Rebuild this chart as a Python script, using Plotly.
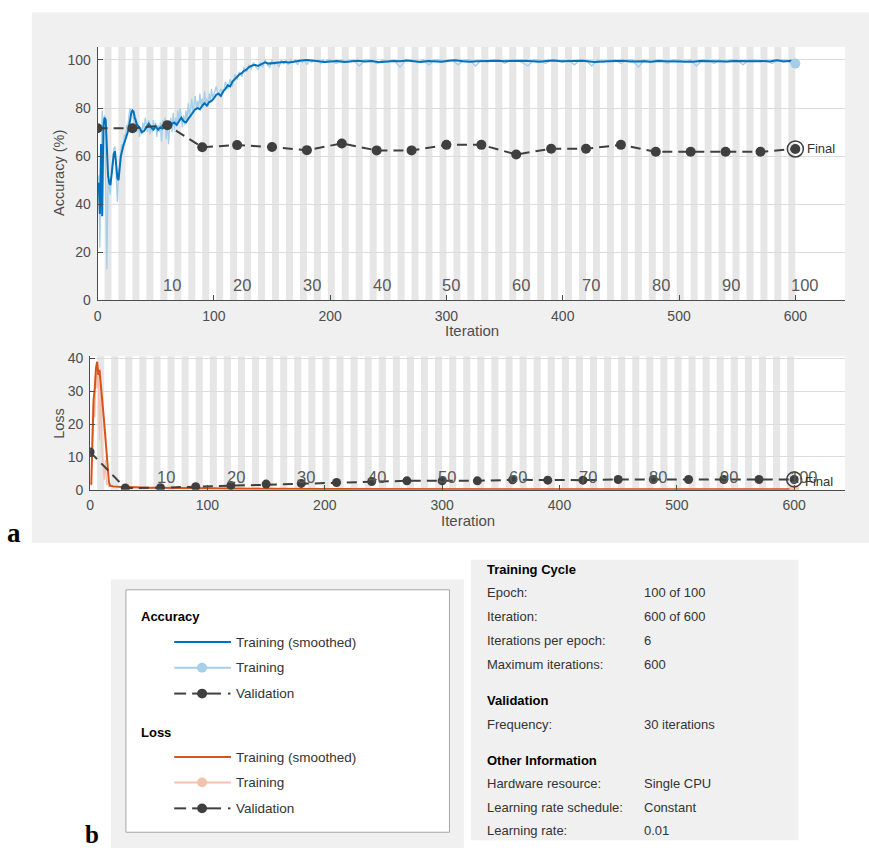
import plotly.graph_objects as go

W, H = 869, 856

# ---------------- data ----------------
acc_smooth_iter = ([1, 2, 3, 4, 5, 6, 7, 8, 9, 10,
                    11, 12, 13, 14, 15, 16, 17, 18, 19, 20,
                    22, 24, 26, 28, 29, 30, 31, 32, 34, 36,
                    38, 40, 42, 44, 46, 48, 50, 52, 54, 56,
                    58, 60, 62, 64, 66, 68, 70, 72, 74, 76,
                    78, 80, 82, 84, 86, 88, 90, 92, 94, 96,
                    98, 100, 102, 104, 106, 108, 110, 112, 114, 116,
                    118, 120, 122, 124, 126, 128, 130, 132, 135, 138,
                    141, 144, 147, 150, 155, 160, 165, 170, 175, 180,
                    185, 190, 195, 200]
                   + list(range(206, 597, 6)) + [600])
acc_smooth = [49, 36, 65, 35, 72, 76, 75, 64, 52, 49,
              48, 52, 57, 61, 62, 56, 51, 50, 55, 60,
              64, 67, 70, 75, 78, 79, 78.5, 76, 73, 72,
              70, 70.5, 72, 73.5, 72, 71, 72.5, 71, 72, 71.5,
              72.5, 71.5, 72, 73.5, 74, 73, 74.5, 76, 74.5, 74,
              75.5, 77, 78, 79.5, 80, 79.5, 81, 82, 81, 82.5,
              83, 84, 85.5, 86, 85, 87, 88, 89.5, 89, 91,
              92, 93, 94, 94.5, 95.5, 96, 97, 97.5, 98, 97.5,
              98.3, 99, 98.5, 98.7, 99, 99.2, 99, 99.5, 99.8, 100,
              99.6, 99.5, 99.2, 99.3,
              99.6, 99.2, 99.5, 99.7, 99.4, 99.6, 99.1, 99.4, 99.6, 99.5,
              99.8, 99.5, 99.2, 99.6, 99.5, 99.3, 99.7, 99.9, 99.5, 99.3,
              99.5, 99.6, 99.4, 99.7, 99.5, 99.6, 99.4, 99.7, 99.5, 99.3,
              99.6, 99.8, 99.5, 99.4, 99.6, 99.7, 99.5, 99.2, 99.4, 99.6,
              99.5, 99.7, 99.4, 99.6, 99.5, 99.3, 99.6, 99.5, 99.4, 99.6,
              99.5, 99.3, 99.6, 99.5, 99.7, 99.5, 99.4, 99.6, 99.5, 99.7,
              99.5, 99.6, 99.4, 99.9, 99.4, 99.7,
              99.6]

acc_raw_iter = list(range(1, 101)) + list(range(102, 201, 2)) + list(range(205, 601, 5))
acc_raw = [52, 22, 60, 79, 70, 77, 45, 13, 50, 47,
           44, 55, 60, 63, 64, 50, 41, 52, 58, 62,
           65, 64, 69, 68, 73, 72, 77, 80, 78, 79,
           75, 72, 76, 70, 73, 68, 72, 69, 74, 71,
           76, 72, 70, 75, 69, 73, 70, 75, 71, 74,
           68, 73, 70, 74, 66, 75, 72, 76, 67, 74,
           65, 72, 76, 70, 78, 71, 76, 73, 79, 74,
           80, 76, 72, 77, 73, 79, 75, 82, 77, 80,
           84, 78, 82, 85, 79, 83, 80, 86, 81, 84,
           80, 87, 82, 84, 81, 86, 83, 88, 84, 86,
           89, 85, 88, 86, 91, 88, 92, 89, 94, 92,
           95, 93, 97, 95, 98, 96, 99, 97, 96, 99,
           97, 100, 98, 97, 100, 98, 99, 97, 100, 98.5,
           100, 98, 100, 99, 100, 98, 100, 99, 100, 98,
           100, 99, 100, 99.5, 100, 98.5, 100, 99, 100, 100,
           98.5, 100, 99, 100, 97.5, 100, 100, 98.5, 100, 99,
           100, 97, 100, 100, 99, 100, 98, 100, 100, 99.5,
           100, 98, 100, 100, 97.5, 100, 99, 100, 100, 98.5,
           100, 100, 99, 97.5, 100, 100, 98.5, 100, 100, 99,
           100, 98, 100, 100, 97.5, 100, 99, 100, 100, 98.5,
           100, 100, 97, 100, 99, 100, 100, 98.5, 100, 100,
           99, 100, 97.5, 100, 100, 98.5, 100, 99, 100, 100,
           98, 100, 100, 99, 100, 98.5, 100, 100, 99, 98.5]

val_iter = [0, 30, 60, 90, 120, 150, 180, 210, 240, 270, 300,
            330, 360, 390, 420, 450, 480, 510, 540, 570, 600]
val_acc = [71.6, 71.6, 72.9, 63.7, 64.6, 63.8, 62.5, 65.3, 62.4, 62.4, 64.7,
           64.7, 60.7, 63.1, 63.1, 64.7, 61.8, 61.8, 61.8, 61.8, 63.0]
val_loss = [11.5, 0.5, 0.6, 0.9, 1.3, 1.7, 1.9, 2.2, 2.5, 2.7, 2.7,
            2.7, 3.0, 2.9, 2.9, 3.1, 3.1, 3.1, 3.1, 3.1, 3.1]

loss_smooth_iter = [1, 2, 3, 4, 5, 6, 7, 8, 9, 10, 11, 12, 13, 14, 15, 16, 17, 18, 20,
                    25, 30, 40, 50, 60, 80, 100, 120, 150, 200, 250, 300, 350, 400,
                    450, 500, 550, 600]
loss_smooth = [1.5, 14, 27.5, 31, 37, 39, 35, 36.5, 33, 29, 25, 20.5, 16, 11.5, 7, 2.5, 1.2, 1.1, 1.0,
               0.9, 0.8, 0.7, 0.6, 0.55, 0.45, 0.35, 0.3, 0.25, 0.2, 0.18, 0.15, 0.13, 0.12,
               0.11, 0.1, 0.1, 0.1]
loss_raw_iter = [1, 2, 3, 4, 5, 6, 7, 8, 9, 10, 11, 12, 13, 14, 15, 16, 18, 20, 25, 30,
                 35, 40, 50, 60, 70, 80, 90, 100, 120, 140, 160, 180, 200, 250, 300,
                 350, 400, 450, 500, 550, 600]
loss_raw = [1.2, 23, 28, 22, 36, 31, 37, 15, 33, 12, 8, 3, 9, 1.5, 2, 0.9, 1.2, 0.8, 0.6, 0.9,
            0.5, 0.7, 0.4, 0.6, 0.3, 0.5, 0.3, 0.4, 0.2, 0.3, 0.15, 0.2, 0.1, 0.15, 0.08,
            0.12, 0.06, 0.1, 0.05, 0.08, 0.05]

epoch_labels = [10, 20, 30, 40, 50, 60, 70, 80, 90, 100]
iters_per_epoch = 6
n_epochs = 100

info_rows = [
    ("Training Cycle", None, 572.7, True),
    ("Epoch:", "100 of 100", 596.5, False),
    ("Iteration:", "600 of 600", 621, False),
    ("Iterations per epoch:", "6", 645, False),
    ("Maximum iterations:", "600", 669.5, False),
    ("Validation", None, 706, True),
    ("Frequency:", "30 iterations", 730, False),
    ("Other Information", None, 766.7, True),
    ("Hardware resource:", "Single CPU", 790.5, False),
    ("Learning rate schedule:", "Constant", 815, False),
    ("Learning rate:", "0.01", 838.7, False),
]

# ---------------- styles ----------------
C_ACC = "#0072BD"
C_ACC_RAW = "#A6CEE8"
C_LOSS = "#D95319"
C_LOSS_RAW = "#F2C2AD"
C_VAL = "#3f3f3f"
C_AX = "#4d4d4d"
FONT = "Liberation Sans"


def X(p):
    return p / W


def Y(p):
    return 1 - p / H


fig = go.Figure()

# training accuracy
fig.add_trace(go.Scatter(x=acc_raw_iter, y=acc_raw, mode="lines",
                         line=dict(color=C_ACC_RAW, width=1.3), xaxis="x", yaxis="y"))
fig.add_trace(go.Scatter(x=acc_smooth_iter, y=acc_smooth, mode="lines",
                         line=dict(color=C_ACC, width=2), xaxis="x", yaxis="y"))
fig.add_trace(go.Scatter(x=[acc_raw_iter[-1]], y=[acc_raw[-1]], mode="markers",
                         marker=dict(color=C_ACC_RAW, size=10), xaxis="x", yaxis="y"))
fig.add_trace(go.Scatter(x=val_iter, y=val_acc, mode="lines+markers",
                         line=dict(color=C_VAL, width=2, dash="10px,6px"),
                         marker=dict(color=C_VAL, size=10), xaxis="x", yaxis="y"))
fig.add_trace(go.Scatter(x=[val_iter[-1]], y=[val_acc[-1]], mode="markers",
                         marker=dict(symbol="circle-open", color=C_VAL, size=16,
                                     line=dict(width=1.5, color=C_VAL)), xaxis="x", yaxis="y"))

# loss
fig.add_trace(go.Scatter(x=loss_raw_iter, y=loss_raw, mode="lines",
                         line=dict(color=C_LOSS_RAW, width=1.3), xaxis="x2", yaxis="y2"))
fig.add_trace(go.Scatter(x=loss_smooth_iter, y=loss_smooth, mode="lines",
                         line=dict(color=C_LOSS, width=2), xaxis="x2", yaxis="y2"))
fig.add_trace(go.Scatter(x=[loss_raw_iter[-1]], y=[loss_raw[-1]], mode="markers",
                         marker=dict(color=C_LOSS_RAW, size=10), xaxis="x2", yaxis="y2"))
fig.add_trace(go.Scatter(x=val_iter, y=val_loss, mode="lines+markers",
                         line=dict(color=C_VAL, width=2, dash="10px,6px"),
                         marker=dict(color=C_VAL, size=9), xaxis="x2", yaxis="y2"))
fig.add_trace(go.Scatter(x=[val_iter[-1]], y=[val_loss[-1]], mode="markers",
                         marker=dict(symbol="circle-open", color=C_VAL, size=15,
                                     line=dict(width=1.5, color=C_VAL)), xaxis="x2", yaxis="y2"))

shapes = []
annotations = []

# panels
shapes.append(dict(type="rect", xref="paper", yref="paper", x0=X(28), x1=1, y0=Y(546), y1=Y(6.6),
                   fillcolor="#f0f0f0", line_width=0, layer="below"))
shapes.append(dict(type="rect", xref="paper", yref="paper", x0=X(107.5), x1=X(462), y0=0, y1=Y(583),
                   fillcolor="#f0f0f0", line_width=0, layer="below"))
shapes.append(dict(type="rect", xref="paper", yref="paper", x0=X(469), x1=X(798), y0=Y(848), y1=Y(563),
                   fillcolor="#f0f0f0", line_width=0, layer="below"))
shapes.append(dict(type="rect", xref="paper", yref="paper", x0=X(122.5), x1=X(447.5), y0=Y(840), y1=Y(593.5),
                   fillcolor="white", line=dict(color="#a6a6a6", width=1), layer="below"))

# plot backgrounds and epoch bands
for xa, ya in (("x", "y"), ("x2", "y2")):
    shapes.append(dict(type="rect", xref=xa + " domain", yref=ya + " domain", x0=0, x1=1, y0=0, y1=1,
                       fillcolor="white", line_width=0, layer="below"))
    for e in range(2, n_epochs + 1, 2):
        shapes.append(dict(type="rect", xref=xa, yref=ya + " domain",
                           x0=(e - 1) * iters_per_epoch, x1=e * iters_per_epoch, y0=0, y1=1,
                           fillcolor="#e6e6e6", line_width=0, layer="below"))

# epoch labels
for e in epoch_labels:
    annotations.append(dict(x=e * iters_per_epoch, y=6.2, xref="x", yref="y", text=str(e),
                            showarrow=False, xanchor="left", yanchor="middle", xshift=-6,
                            font=dict(family=FONT, size=16.5, color="#5a5a5a")))
    annotations.append(dict(x=e * iters_per_epoch, y=4.0, xref="x2", yref="y2", text=str(e),
                            showarrow=False, xanchor="left", yanchor="middle", xshift=-6,
                            font=dict(family=FONT, size=16.5, color="#5a5a5a")))

# Final labels
annotations.append(dict(x=val_iter[-1], y=val_acc[-1], xref="x", yref="y", text="Final",
                        showarrow=False, xanchor="left", yanchor="middle", xshift=10,
                        font=dict(family=FONT, size=13, color="#333333")))
annotations.append(dict(x=val_iter[-1], y=val_loss[-1], xref="x2", yref="y2", text="Final",
                        showarrow=False, xanchor="left", yanchor="middle", xshift=9, yshift=-2,
                        font=dict(family=FONT, size=13, color="#333333")))

# axis titles
annotations += [
    dict(x=X(55), y=Y(170), xref="paper", yref="paper", text="Accuracy (%)", textangle=-90,
         showarrow=False, xanchor="center", yanchor="middle",
         font=dict(family=FONT, size=14.5, color=C_AX)),
    dict(x=X(470), y=Y(330), xref="paper", yref="paper", text="Iteration",
         showarrow=False, xanchor="center", yanchor="middle",
         font=dict(family=FONT, size=15, color=C_AX)),
    dict(x=X(55), y=Y(424), xref="paper", yref="paper", text="Loss", textangle=-90,
         showarrow=False, xanchor="center", yanchor="middle",
         font=dict(family=FONT, size=14.5, color=C_AX)),
    dict(x=X(466), y=Y(523), xref="paper", yref="paper", text="Iteration",
         showarrow=False, xanchor="center", yanchor="middle",
         font=dict(family=FONT, size=15, color=C_AX)),
]

# panel letters
annotations += [
    dict(x=X(1.5), y=Y(536), xref="paper", yref="paper", text="<b>a</b>", showarrow=False,
         xanchor="left", yanchor="middle", font=dict(family="Liberation Serif", size=27, color="black")),
    dict(x=X(79.5), y=Y(842), xref="paper", yref="paper", text="<b>b</b>", showarrow=False,
         xanchor="left", yanchor="middle", font=dict(family="Liberation Serif", size=25, color="black")),
]

# legend box content
legend_groups = [
    ("Accuracy", 621, [("Training (smoothed)", 646.7, C_ACC, "line"),
                       ("Training", 672.7, C_ACC_RAW, "marker"),
                       ("Validation", 699, C_VAL, "val")]),
    ("Loss", 738.3, [("Training (smoothed)", 763.5, C_LOSS, "line"),
                     ("Training", 789.3, C_LOSS_RAW, "marker"),
                     ("Validation", 815.7, C_VAL, "val")]),
]
for title, ty, entries in legend_groups:
    annotations.append(dict(x=X(135.5), y=Y(ty), xref="paper", yref="paper", text="<b>%s</b>" % title,
                            showarrow=False, xanchor="left", yanchor="middle",
                            font=dict(family=FONT, size=13, color="black")))
    for label, ey, col, kind in entries:
        annotations.append(dict(x=X(231.5), y=Y(ey), xref="paper", yref="paper", text=label,
                                showarrow=False, xanchor="left", yanchor="middle",
                                font=dict(family=FONT, size=13.5, color="#333333")))
        if kind in ("line", "marker"):
            shapes.append(dict(type="line", xref="paper", yref="paper", x0=X(171), x1=X(228),
                               y0=Y(ey), y1=Y(ey), line=dict(color=col, width=2)))
        if kind == "marker":
            shapes.append(dict(type="circle", xref="paper", yref="paper", x0=X(194), x1=X(204),
                               y0=Y(ey + 5), y1=Y(ey - 5), fillcolor=col, line_width=0))
        if kind == "val":
            for a, b in ((171, 183), (189, 218), (225, 227.5)):
                shapes.append(dict(type="line", xref="paper", yref="paper", x0=X(a), x1=X(b),
                                   y0=Y(ey), y1=Y(ey), line=dict(color=col, width=2)))
            shapes.append(dict(type="circle", xref="paper", yref="paper", x0=X(194), x1=X(204),
                               y0=Y(ey + 5), y1=Y(ey - 5), fillcolor=col, line_width=0))

# info panel
for label, value, ry, bold in info_rows:
    annotations.append(dict(x=X(483.5), y=Y(ry), xref="paper", yref="paper",
                            text=("<b>%s</b>" % label) if bold else label,
                            showarrow=False, xanchor="left", yanchor="middle",
                            font=dict(family=FONT, size=13, color="black" if bold else "#333333")))
    if value is not None:
        annotations.append(dict(x=X(640.5), y=Y(ry), xref="paper", yref="paper", text=value,
                                showarrow=False, xanchor="left", yanchor="middle",
                                font=dict(family=FONT, size=13, color="#333333")))

axis_common = dict(ticks="inside", ticklen=5, tickcolor=C_AX, showline=True, linecolor=C_AX,
                   linewidth=1, zeroline=False, tickfont=dict(family=FONT, size=14, color=C_AX))

fig.update_layout(
    width=W, height=H, margin=dict(l=0, r=0, t=0, b=0, pad=0),
    paper_bgcolor="white", plot_bgcolor="rgba(0,0,0,0)", showlegend=False,
    xaxis=dict(domain=[X(94), X(845)], range=[0, 642.8], anchor="y",
               tickvals=[0, 100, 200, 300, 400, 500, 600], showgrid=False,
               ticklabelstandoff=3, **axis_common),
    yaxis=dict(domain=[Y(299.3), Y(41.7)], range=[0, 105.4], anchor="x",
               tickvals=[0, 20, 40, 60, 80, 100], showgrid=True, gridcolor="#dcdcdc",
               ticklabelstandoff=3, **axis_common),
    xaxis2=dict(domain=[X(86.5), X(845)], range=[0, 643.4], anchor="y2",
                tickvals=[0, 100, 200, 300, 400, 500, 600], showgrid=False,
                ticklabelstandoff=3, **axis_common),
    yaxis2=dict(domain=[Y(491.7), Y(356)], range=[0, 40.7], anchor="x2",
                tickvals=[0, 10, 20, 30, 40], showgrid=True, gridcolor="#dcdcdc",
                ticklabelstandoff=3, **axis_common),
    shapes=shapes, annotations=annotations,
)

fig.write_html("out.html", config={"displayModeBar": False},
               post_script="document.body.style.margin='0px';document.body.style.overflow='hidden';")
